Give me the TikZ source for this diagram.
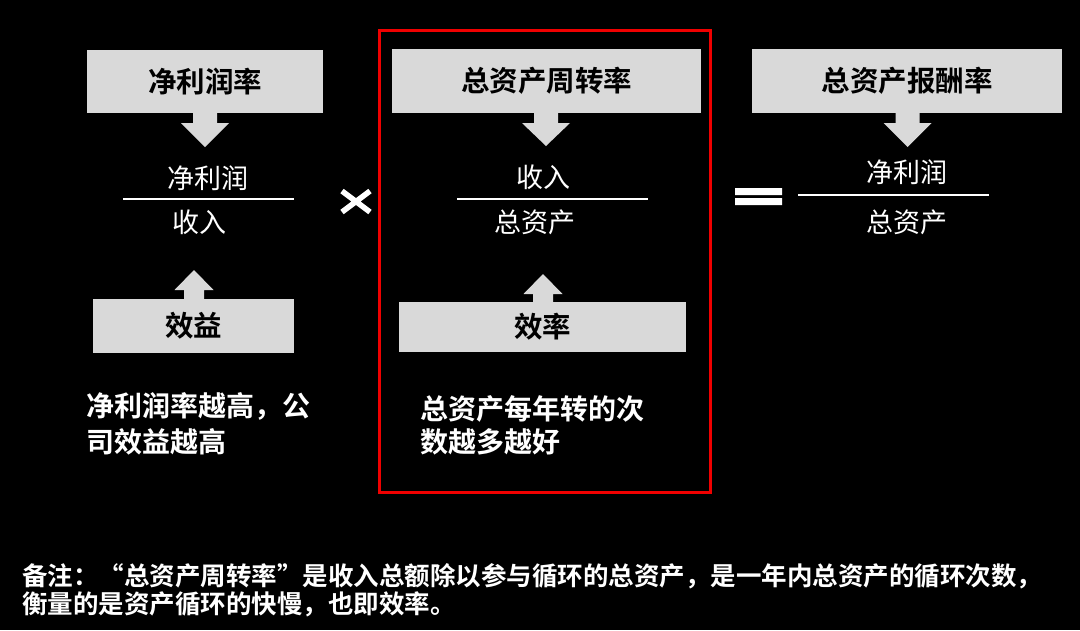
\documentclass[tikz,border=0pt]{standalone}
\usepackage{fontspec}
\setmainfont{Noto Sans CJK SC}[BoldFont={Noto Sans CJK SC Bold}]
\definecolor{boxgray}{HTML}{D9D9D9}
\definecolor{framered}{HTML}{F00000}
\newcommand\dnarrow[3]{% x centre, y top, y tip
  \fill[boxgray] (#1-12,#2) -- (#1+12,#2) -- (#1+12,#2+10) -- (#1+24,#2+10)
    -- (#1,#3) -- (#1-24,#2+10) -- (#1-12,#2+10) -- cycle;}
\newcommand\uparrowblk[3]{% x centre, y bottom, y tip
  \fill[boxgray] (#1-10,#2) -- (#1+10,#2) -- (#1+10,#3+20) -- (#1+19.5,#3+20)
    -- (#1,#3) -- (#1-19.5,#3+20) -- (#1-10,#3+20) -- cycle;}
\begin{document}
\begin{tikzpicture}[x=1pt,y=-1pt,
  box/.style={fill=boxgray, draw=none, inner sep=0pt, text=black,
    font=\fontsize{28.5}{28.5}\selectfont\bfseries},
  frac/.style={text=white, inner sep=0pt, font=\fontsize{27}{27}\selectfont},
  body/.style={text=white, inner sep=0pt, anchor=base west,
    font=\fontsize{28}{28}\selectfont\bfseries},
  note/.style={text=white, inner sep=0pt, anchor=base west,
    font=\fontsize{25.5}{25.5}\selectfont\bfseries},
  fracline/.style={draw=white, line width=1.8pt}]
\fill[black] (0,0) rectangle (1080,630);
\useasboundingbox (0,0) rectangle (1080,630);

% left column
\node[box, minimum width=236pt, minimum height=63pt] (b1) at (205,81.5) {净利润率};
\dnarrow{205}{113}{147}
\node[frac] (n1) at (208,178) {净利润};
\draw[fracline] (123,199) -- (294,199);
\node[frac] (d1) at (199,222) {收入};
\uparrowblk{194}{299}{270}
\node[box, minimum width=201pt, minimum height=54pt] (e1) at (193.5,326) {效益};
\node[body] (t1a) at (86,416) {净利润率越高，公};
\node[body] (t1b) at (86,452) {司效益越高};

% times sign
\draw[white, line width=5.5pt] (342,191) -- (370,212) (342,212) -- (370,191);

% middle column
\draw[framered, line width=3pt] (379,30) rectangle (710.5,492.5);
\node[box, minimum width=309pt, minimum height=64pt] (b2) at (546.5,81) {总资产周转率};
\dnarrow{546}{113}{146}
\node[frac] (n2) at (543,177) {收入};
\draw[fracline] (457,199) -- (648,199);
\node[frac] (d2) at (535,222) {总资产};
\uparrowblk{543}{302}{274}
\node[box, minimum width=287pt, minimum height=50pt] (e2) at (542.5,327) {效率};
\node[body] (t2a) at (420,419) {总资产每年转的次};
\node[body] (t2b) at (420,452) {数越多越好};

% equals sign
\fill[white] (735,188) rectangle (782,195) (735,198) rectangle (782,205);

% right column
\node[box, minimum width=310pt, minimum height=64pt] (b3) at (907,81) {总资产报酬率};
\dnarrow{907.5}{113}{147}
\node[frac] (n3) at (907,172) {净利润};
\draw[fracline] (798,195) -- (989,195);
\node[frac] (d3) at (907,222) {总资产};

% note
\node[note] (m1) at (22,585) {备注：“总资产周转率”是收入总额除以参与循环的总资产，是一年内总资产的循环次数，};
\node[note] (m2) at (22,613) {衡量的是资产循环的快慢，也即效率。};
\end{tikzpicture}
\end{document}
